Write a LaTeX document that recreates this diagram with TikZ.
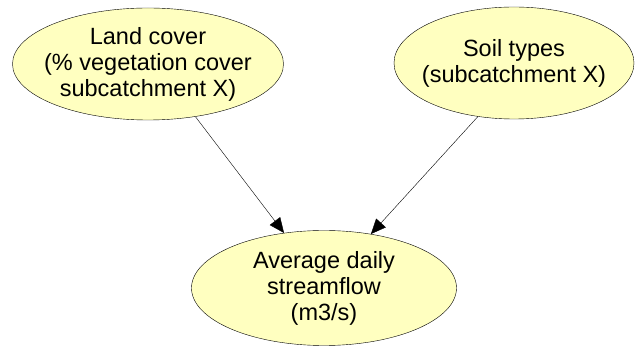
\documentclass[tikz,border=0pt]{standalone}
\usepackage{fontspec}
\setmainfont{Liberation Sans}
\usepackage{tikz}
\usetikzlibrary{arrows.meta,shapes.geometric}
\definecolor{nodeYellow}{HTML}{FFFFC0}

\begin{document}
\begin{tikzpicture}[
        x=1pt, y=-1pt,
        var/.style={ellipse, draw, fill=nodeYellow, align=center,
                    inner xsep=-15pt, inner ysep=0pt,
                    font=\fontsize{23.5}{26}\selectfont},
        arr/.style={-{Triangle[length=15pt,width=13pt]}, thin},
    ]
        \useasboundingbox (0,0) rectangle (638,347);
        \node[var, minimum width=271pt, minimum height=112pt] (land) at (148,64)
            {Land cover\\ (\% vegetation cover\\ subcatchment X)};
        \node[var, minimum width=240pt, minimum height=112pt] (soil) at (514,63)
            {Soil types\\ (subcatchment X)};
        \node[var, minimum width=265pt, minimum height=115pt] (flow) at (324,288)
            {Average daily\\ streamflow\\ (m3/s)};

        \draw[arr] (land.-48) -- (flow.126);
        \draw[arr] (soil.-124) -- (flow.49);
    \end{tikzpicture}
\end{document}
